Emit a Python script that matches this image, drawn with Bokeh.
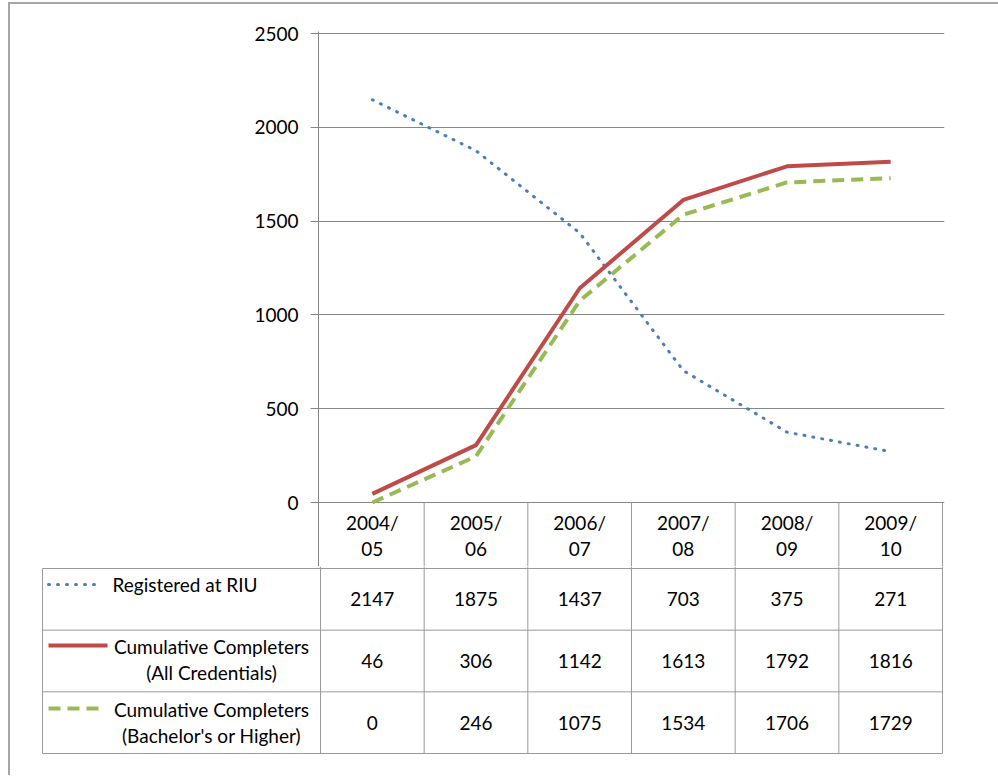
from bokeh.plotting import figure
from bokeh.layouts import column, row
from bokeh.models import FactorRange, Range1d, FixedTicker
from bokeh.core.properties import value
from bokeh.embed import file_html
from bokeh.resources import INLINE

# ---- data -------------------------------------------------------------
years = ["2004/05", "2005/06", "2006/07", "2007/08", "2008/09", "2009/10"]
registered = [2147, 1875, 1437, 703, 375, 271]
completers_all = [46, 306, 1142, 1613, 1792, 1816]
completers_bachelor = [0, 246, 1075, 1534, 1706, 1729]
series_labels = [
    "Registered at RIU",
    "Cumulative Completers\n(All Credentials)",
    "Cumulative Completers\n(Bachelor's or Higher)",
]
y_ticks = [0, 500, 1000, 1500, 2000, 2500]

# ---- styling ----------------------------------------------------------
FONT = "Lato"
FONT_SIZE = "19px"
TEXT_COLOR = "#000000"
GRID_COLOR = "#868686"
TABLE_COLOR = "#9a9a9a"
BLUE, RED, GREEN = "#4a7ebb", "#be4b48", "#98b954"
series_styles = [
    dict(line_color=BLUE, line_width=3, line_dash="1 8", line_cap="round"),
    dict(line_color=RED, line_width=4),
    dict(line_color=GREEN, line_width=4, line_dash="12 7"),
]
series_values = [registered, completers_all, completers_bachelor]

# ---- layout (page pixels) --------------------------------------------
ORIGIN_X, ORIGIN_Y = 10, 4          # where the figures start on the page
AXIS_X, PLOT_RIGHT = 320, 942       # value axis / right edge of columns
Y_MAX_PX, Y_ZERO_PX = 33, 502       # pixel rows of the top and zero ticks
SPLIT_Y = 566                       # boundary between the two figures
HEADER_BOTTOM, TABLE_BOTTOM = 568, 753
TABLE_LEFT = 42
PAD = 2
TOTAL_W = 998 - ORIGIN_X

n = len(years)
col_w = (PLOT_RIGHT - AXIS_X) / n
px_per_val = (Y_ZERO_PX - Y_MAX_PX) / y_ticks[-1]

# ---- chart with header row -------------------------------------------
top_h = SPLIT_Y - ORIGIN_Y
frame_w = (PLOT_RIGHT - AXIS_X) + 2 * PAD
left_b = AXIS_X - PAD - ORIGIN_X
x_range = FactorRange(factors=years, range_padding=PAD / col_w,
                      range_padding_units="absolute")
y_range = Range1d(-(SPLIT_Y - Y_ZERO_PX) / px_per_val,
                  y_ticks[-1] + PAD / px_per_val)

p = figure(width=TOTAL_W, height=top_h, x_range=x_range, y_range=y_range,
           x_axis_location=None, output_backend="svg", toolbar_location=None,
           min_border_left=left_b, min_border_right=TOTAL_W - left_b - frame_w,
           min_border_top=Y_MAX_PX - PAD - ORIGIN_Y, min_border_bottom=0)
p.outline_line_color = None
p.background_fill_color = "white"
p.border_fill_color = "white"

p.xgrid.visible = False
p.ygrid.ticker = FixedTicker(ticks=y_ticks)
p.ygrid.grid_line_color = GRID_COLOR

ax = p.yaxis[0]
ax.ticker = FixedTicker(ticks=y_ticks)
ax.axis_line_color = GRID_COLOR
ax.major_tick_line_color = GRID_COLOR
ax.major_tick_out = 8
ax.major_tick_in = 0
ax.minor_tick_line_color = None
ax.major_label_standoff = 12
ax.major_label_text_font = FONT
ax.major_label_text_font_size = FONT_SIZE
ax.major_label_text_color = TEXT_COLOR

for vals, style in zip(series_values, series_styles):
    p.line(x=years, y=vals, **style)

# header row: column separators and two-line year labels
bounds = list(range(1, n + 1))
p.segment(x0=bounds, y0=[0] * n, x1=bounds, y1=[y_range.start] * n,
          line_color=TABLE_COLOR, line_width=1)
year_parts = [y.split("/") for y in years]
for k, py in enumerate([522, 548]):
    txt = [parts[0] + "/" if k == 0 else parts[1] for parts in year_parts]
    p.text(x=years, y=[-(py - Y_ZERO_PX) / px_per_val] * n, text=txt,
           text_font=value(FONT), text_font_size=FONT_SIZE,
           text_color=TEXT_COLOR, text_align="center", text_baseline="middle")

# ---- data table -------------------------------------------------------
rows = len(series_values)
row_h = (TABLE_BOTTOM - HEADER_BOTTOM) / rows
label_units = (AXIS_X - TABLE_LEFT) / col_w
top_off = (HEADER_BOTTOM - SPLIT_Y) / row_h
bottom_h = (TABLE_BOTTOM + PAD - SPLIT_Y) + 20
t_left_b = TABLE_LEFT - PAD - ORIGIN_X
t_frame_w = (PLOT_RIGHT - TABLE_LEFT) + 2 * PAD

t = figure(width=TOTAL_W, height=bottom_h,
           x_range=Range1d(-label_units - PAD / col_w, n + PAD / col_w),
           y_range=Range1d(-rows - PAD / row_h, top_off),
           x_axis_location=None, y_axis_location=None,
           output_backend="svg", toolbar_location=None,
           min_border_left=t_left_b,
           min_border_right=TOTAL_W - t_left_b - t_frame_w,
           min_border_top=0, min_border_bottom=20)
t.outline_line_color = None
t.grid.visible = False


def to_x(px):
    return (px - AXIS_X) / col_w


def to_y(py):
    return -(py - HEADER_BOTTOM) / row_h


# horizontal rules
hy = [-r for r in range(rows + 1)]
t.segment(x0=[-label_units] * len(hy), y0=hy, x1=[n] * len(hy), y1=hy,
          line_color=TABLE_COLOR, line_width=1)
# vertical rules
vx = list(range(0, n + 1))
t.segment(x0=vx, y0=[top_off] * len(vx), x1=vx, y1=[-rows] * len(vx),
          line_color=TABLE_COLOR, line_width=1)
t.segment(x0=[-label_units], y0=[0], x1=[-label_units], y1=[-rows],
          line_color=TABLE_COLOR, line_width=1)

# cell values
for r, vals in enumerate(series_values):
    t.text(x=[i + 0.5 for i in range(n)], y=[-(r + 0.5)] * n,
           text=[str(v) for v in vals],
           text_font=value(FONT), text_font_size=FONT_SIZE,
           text_color=TEXT_COLOR, text_align="center", text_baseline="middle")

# legend keys and series names
key_spans = [(48, 101, 584), (48, 107, 645), (48, 101, 708)]
for (x0, x1, ky), style in zip(key_spans, series_styles):
    t.line(x=[to_x(x0), to_x(x1)], y=[to_y(ky)] * 2, **style)

label_lines = [s.split("\n") for s in series_labels]
t.text(x=[to_x(112)], y=[to_y(584)], text=label_lines[0],
       text_font=value(FONT), text_font_size=FONT_SIZE, text_color=TEXT_COLOR,
       text_align="left", text_baseline="middle")
for lines, ys in zip(label_lines[1:], [(646, 672), (709, 735)]):
    t.text(x=[to_x(211)] * len(lines), y=[to_y(v) for v in ys], text=lines,
           text_font=value(FONT), text_font_size=FONT_SIZE,
           text_color=TEXT_COLOR, text_align="center", text_baseline="middle")

# the table sits in its own row so its frame keeps its own left edge
layout = column(p, row(t), margin=(2, 0, 0, 8),
                styles={"border-left": "2px solid #a6a6a6",
                        "border-top": "2px solid #a6a6a6"})

open("out.html", "w").write(file_html(layout, INLINE))
